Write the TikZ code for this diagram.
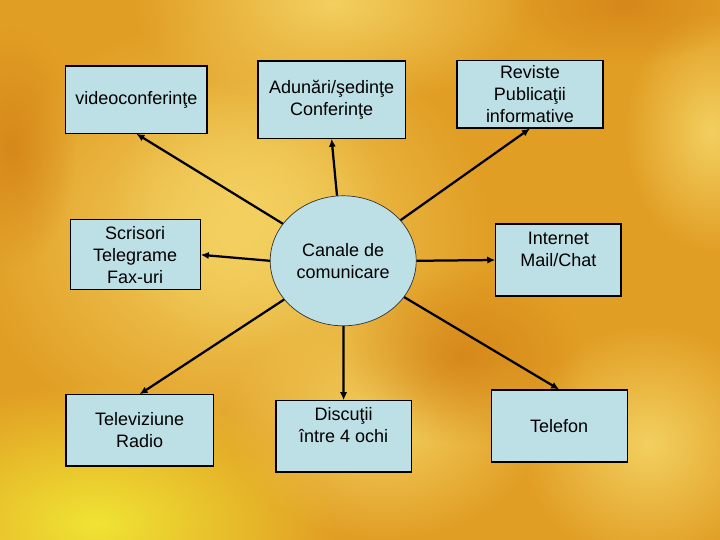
\documentclass[tikz,border=0pt]{standalone}
\usepackage{fontspec}
\setmainfont{Liberation Sans}
\usetikzlibrary{shapes.geometric, arrows.meta, fadings}
\definecolor{cutie}{RGB}{189,224,230}
\definecolor{fundal}{RGB}{225,158,36}
\definecolor{galben}{RGB}{243,208,96}
\definecolor{galbenviu}{RGB}{240,228,52}
\definecolor{portocaliu}{RGB}{214,136,26}
\tikzfading[name=pata, inner color=transparent!0, outer color=transparent!100]
\begin{document}
\begin{tikzpicture}[
  every node/.style={font=\fontsize{12.8}{15.6}\selectfont, align=center},
  cutia/.style={rectangle, draw=black, line width=0.8pt, fill=cutie, inner sep=2pt},
  centru/.style={ellipse, draw=black!80, line width=0.5pt, fill=cutie, minimum width=3.65cm, minimum height=3.25cm, inner sep=0pt},
  sageata/.style={-{Latex[length=2mm, width=1.8mm]}, line width=1.6pt, black}
]
\useasboundingbox (0,0) rectangle (18,13.5);
% Fundal
\fill[fundal] (0,0) rectangle (18,13.5);
\fill[galben, path fading=pata] (5.8,7.6) ellipse (6.5 and 5.5);
\fill[galben, path fading=pata] (6.2,8.2) ellipse (3.5 and 3.5);
\fill[galben, path fading=pata] (8.3,13.4) ellipse (5 and 2.6);
\fill[galbenviu, path fading=pata] (2.4,0.4) ellipse (6 and 3.5);
\fill[galben, path fading=pata] (9.6,3.0) ellipse (4 and 3);
\fill[galben, path fading=pata] (16.2,2.4) ellipse (3.2 and 3);
\fill[galben, path fading=pata] (17.8,10.2) ellipse (2.2 and 3);
\fill[portocaliu, path fading=pata] (11.6,4.6) ellipse (3 and 2.2);
\fill[portocaliu, path fading=pata] (0.3,9.8) ellipse (1.6 and 3);
\fill[portocaliu, path fading=pata] (15.6,13.4) ellipse (3 and 1.5);
% Noduri
\node[centru] (c) at (8.58,6.98) {Canale de\\comunicare};
\node[cutia, minimum width=3.53cm, minimum height=1.68cm] (v) at (3.41,11.01) {videoconferinţe};
\node[cutia, minimum width=3.68cm, minimum height=1.93cm] (a) at (8.29,11.01) {Adunări/şedinţe\\Conferinţe};
\node[cutia, minimum width=3.65cm, minimum height=1.68cm] (r) at (13.25,11.14) {Reviste\\Publicaţii\\informative};
\node[cutia, minimum width=3.25cm, minimum height=1.75cm] (s) at (3.38,7.13) {Scrisori\\Telegrame\\Fax-uri};
\node[cutia, minimum width=3.13cm, minimum height=1.8cm] (i) at (13.96,7.0) {Internet\\Mail/Chat\\\mbox{}};
\node[cutia, minimum width=3.68cm, minimum height=1.78cm] (t) at (3.49,2.74) {Televiziune\\Radio};
\node[cutia, minimum width=3.38cm, minimum height=1.78cm] (d) at (8.59,2.59) {Discuţii\\între 4 ochi\\\mbox{}};
\node[cutia, minimum width=3.4cm, minimum height=1.8cm] (f) at (13.98,2.85) {Telefon};
% Sageti
\draw[sageata] (c) -- (v.south);
\draw[sageata] (c) -- (a.south);
\draw[sageata] (c) -- (r.south);
\draw[sageata] (c.west) -- (s.east);
\draw[sageata] (c.east) -- (i.west);
\draw[sageata] (c) -- (t.north);
\draw[sageata] (c) -- (d.north);
\draw[sageata] (c) -- (f.north);
\end{tikzpicture}
\end{document}
